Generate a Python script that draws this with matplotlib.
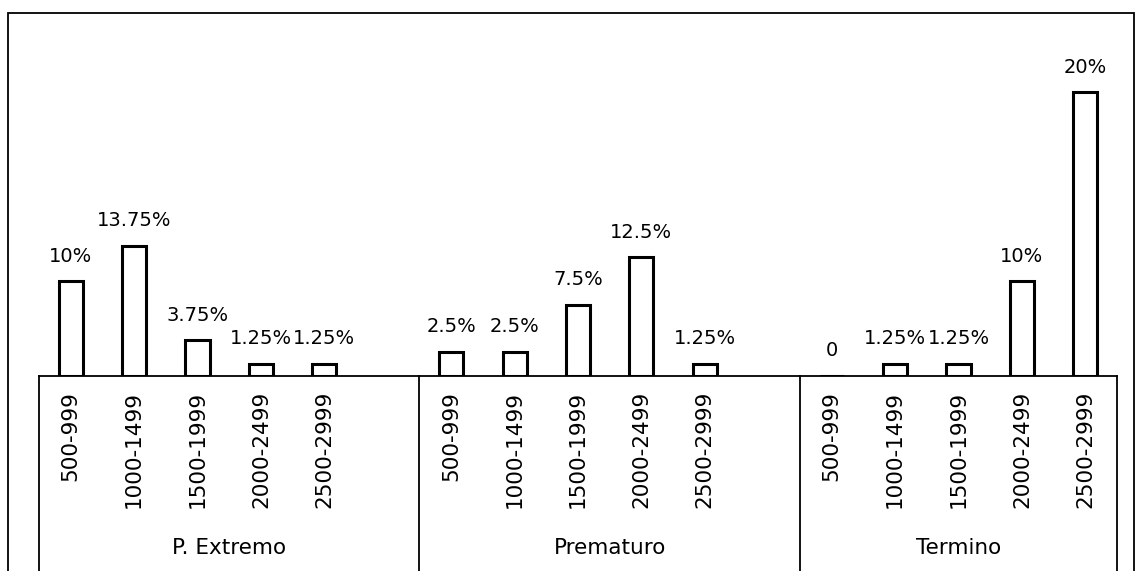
import numpy as np
import matplotlib
matplotlib.use("Agg")
import matplotlib.pyplot as plt
from matplotlib.patches import Rectangle

# data (bar heights in %, label text as printed)
groups = ["P. Extremo", "Prematuro", "Termino"]
ranges = ["500-999", "1000-1499", "1500-1999", "2000-2499", "2500-2999"]
p_extremo = [10, 13.75, 3.75, 1.25, 1.25]
prematuro = [2.5, 2.5, 7.5, 12.5, 1.25]
termino = [0, 1.25, 1.25, 10, 30]
p_extremo_lbl = ["10%", "13.75%", "3.75%", "1.25%", "1.25%"]
prematuro_lbl = ["2.5%", "2.5%", "7.5%", "12.5%", "1.25%"]
termino_lbl = ["0", "1.25%", "1.25%", "10%", "20%"]

plt.rcParams['font.family'] = ['DejaVu Sans']

fig = plt.figure(figsize=(11.36, 5.71), dpi=100)
ax = fig.add_axes([39/1136, 1 - 375.5/571, (1117-39)/1136, 335.5/571])

# each group gets 6 slots (5 ranges + a blank), the last one only 5
starts = [0, 6, 12]
series = [p_extremo, prematuro, termino]
labels = [p_extremo_lbl, prematuro_lbl, termino_lbl]

ticks, ticklabels = [], []
for s, vals, lbls in zip(starts, series, labels):
    x = s + np.arange(len(vals))
    ax.bar(x, vals, width=0.38, color='white', edgecolor='black', linewidth=2.2)
    for xi, v, t in zip(x, vals, lbls):
        ax.annotate(t, (xi, v), xytext=(0, 14), textcoords='offset points',
                    ha='center', va='baseline', fontsize=14)
    ticks += list(x)
    ticklabels += ranges

ax.set_xlim(-0.5, 16.5)
ax.set_ylim(0, 35.5)
ax.set_xticks(ticks)
ax.set_xticklabels(ticklabels, rotation=90, fontsize=15.5)
ax.tick_params(axis='x', length=0, pad=11)
ax.set_yticks([])
for side in ['left', 'right', 'top']:
    ax.spines[side].set_visible(False)
ax.spines['bottom'].set_linewidth(1.3)

# group separators and group names below the axis
trans = ax.get_xaxis_transform()
for sep in [-0.5, 5.5, 11.5, 16.5]:
    ax.plot([sep, sep], [0, -0.7], color='black', lw=1.3, transform=trans, clip_on=False)
for name, c in zip(groups, [2.5, 8.5, 14]):
    ax.text(c, -0.532, name, transform=trans, ha='center', va='baseline', fontsize=15.5)

# outer frame of the chart area
fig.add_artist(Rectangle((8/1136, -0.1), (1134-8)/1136, 1.1 - 13/571,
                         transform=fig.transFigure, fill=False, edgecolor='black', lw=1.3))

fig.savefig("out.png", dpi=100)
